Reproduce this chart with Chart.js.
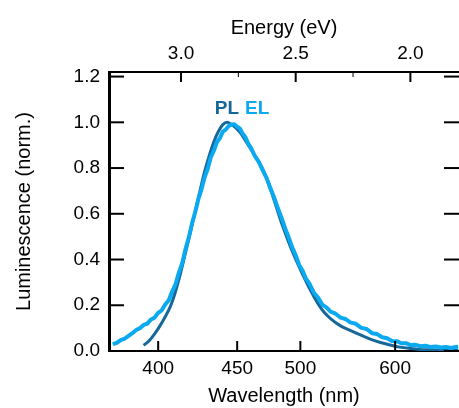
<!DOCTYPE html>
<html>
<head>
<meta charset="utf-8">
<script src="https://cdn.jsdelivr.net/npm/chart.js@4/dist/chart.umd.min.js"></script>
<style>
  html, body { margin: 0; padding: 0; background: #fff; }
  #wrap { width: 459px; height: 408px; }
</style>
</head>
<body>
<div id="wrap"><canvas id="c" width="459" height="408"></canvas></div>
<script>
// ---- data ----
const seriesNames = ['PL', 'EL'];

const plWavelength = [392, 395, 398, 401, 404, 407, 410, 413, 416, 419, 422, 425, 428, 431, 434, 437, 440, 443, 446, 450, 453, 457.5, 463, 469, 475, 480, 485, 490, 496, 502, 508, 516, 522, 528, 538, 548, 559, 570, 582, 594, 606, 620, 633, 648, 663, 679, 692];
const plValue      = [0.025, 0.045, 0.075, 0.11, 0.15, 0.195, 0.26, 0.34, 0.43, 0.52, 0.61, 0.70, 0.785, 0.855, 0.915, 0.96, 0.99, 1.0, 0.99, 0.97, 0.948, 0.905, 0.855, 0.795, 0.708, 0.625, 0.545, 0.475, 0.40, 0.335, 0.275, 0.207, 0.168, 0.142, 0.11, 0.09, 0.07, 0.052, 0.037, 0.026, 0.017, 0.011, 0.007, 0.005, 0.003, 0.002, 0.002];

const elWavelength = [376, 378, 380, 382, 384, 386, 388, 390, 392, 394, 396, 398, 400, 402, 404, 406, 408, 410, 412, 414, 416, 418, 420, 422, 424, 426, 428, 430, 432, 434, 436, 438, 440, 442, 444, 446, 448, 450, 452, 454, 456, 458, 460, 463, 466, 469, 472, 475, 478, 481, 484, 487, 490, 493, 496, 499, 502, 505, 508, 512, 516, 520, 524, 528, 533, 538, 543, 548, 554, 560, 566, 572, 578, 584, 590, 596, 602, 608, 614, 620, 627, 634, 641, 648, 656, 664, 672, 680, 686, 692];
const elValue      = [0.030, 0.036, 0.048, 0.054, 0.066, 0.078, 0.092, 0.100, 0.114, 0.120, 0.138, 0.146, 0.167, 0.178, 0.203, 0.222, 0.260, 0.292, 0.343, 0.384, 0.446, 0.496, 0.558, 0.608, 0.665, 0.708, 0.761, 0.797, 0.848, 0.876, 0.913, 0.931, 0.959, 0.968, 0.984, 0.990, 0.992, 0.981, 0.972, 0.950, 0.935, 0.907, 0.888, 0.852, 0.826, 0.790, 0.756, 0.712, 0.671, 0.625, 0.582, 0.536, 0.496, 0.452, 0.418, 0.376, 0.351, 0.316, 0.296, 0.256, 0.234, 0.203, 0.191, 0.172, 0.163, 0.146, 0.140, 0.125, 0.119, 0.101, 0.096, 0.078, 0.074, 0.060, 0.056, 0.044, 0.043, 0.034, 0.034, 0.026, 0.027, 0.021, 0.023, 0.018, 0.020, 0.015, 0.018, 0.013, 0.017, 0.019];

const yTicks       = [0.0, 0.2, 0.4, 0.6, 0.8, 1.0, 1.2];
const bottomTickNm = [400, 450, 500, 600];
const topTickEv    = [3.0, 2.5, 2.0];
const topMinorEv   = [2.75, 2.25];

// ---- helpers ----
const HC = 1239.84; // eV*nm
const toEv = nm => HC / nm;
const E_MIN = 1.788, E_MAX = 3.314;
const FONT = "'Liberation Sans', Arial, Helvetica, sans-serif";
const PL_COLOR = '#17689a';
const EL_COLOR = '#0ba9f0';

const plData = plWavelength.map((w, i) => ({ x: toEv(w), y: plValue[i] }));
const elData = elWavelength.map((w, i) => ({ x: toEv(w), y: elValue[i] }));

const axisTicks = {
  id: 'axisTicks',
  afterDraw(chart) {
    const { ctx, chartArea: a, scales } = chart;
    ctx.save();
    ctx.strokeStyle = '#000';
    ctx.lineCap = 'butt';
    const seg = (x1, y1, x2, y2, w) => { ctx.lineWidth = w; ctx.beginPath(); ctx.moveTo(x1, y1); ctx.lineTo(x2, y2); ctx.stroke(); };
    bottomTickNm.forEach(nm => { const p = scales.x.getPixelForValue(toEv(nm)); seg(p, a.bottom, p, a.bottom - 10, 2); });
    topTickEv.forEach(e => { const p = scales.x2.getPixelForValue(e); seg(p, a.top, p, a.top + 10, 2); });
    topMinorEv.forEach(e => { const p = scales.x2.getPixelForValue(e); seg(p, a.top, p, a.top + 5, 1); });
    yTicks.forEach(t => {
      const p = scales.y.getPixelForValue(t);
      seg(a.left, p, a.left + 15, p, 2);
      seg(a.right, p, a.right - 15, p, 2);
    });
    ctx.restore();
  }
};

const seriesLabels = {
  id: 'seriesLabels',
  afterDatasetsDraw(chart, args, opts) {
    const { ctx, scales } = chart;
    const px = scales.x.getPixelForValue(toEv(opts.anchorNm));
    const py = scales.y.getPixelForValue(opts.anchorY);
    ctx.save();
    ctx.font = "bold 19px " + FONT;
    ctx.textBaseline = 'middle';
    ctx.fillStyle = PL_COLOR; ctx.textAlign = 'right';
    ctx.fillText(seriesNames[0], px - 3, py);
    ctx.fillStyle = EL_COLOR; ctx.textAlign = 'left';
    ctx.fillText(seriesNames[1], px + 3, py);
    ctx.restore();
  }
};

const tickFont = { family: FONT, size: 19 };
const titleFont = { family: FONT, size: 20 };

new Chart(document.getElementById('c'), {
  type: 'line',
  data: {
    datasets: [
      { label: seriesNames[1], data: elData, borderColor: EL_COLOR, borderWidth: 4, pointRadius: 0, tension: 0, xAxisID: 'x', yAxisID: 'y', borderJoinStyle: 'round' },
      { label: seriesNames[0], data: plData, borderColor: PL_COLOR, borderWidth: 3, pointRadius: 0, tension: 0.4, cubicInterpolationMode: 'monotone', xAxisID: 'x', yAxisID: 'y' }
    ]
  },
  options: {
    responsive: false,
    devicePixelRatio: 1,
    animation: false,
    layout: { padding: 0 },
    plugins: {
      legend: { display: false },
      tooltip: { enabled: false },
      seriesLabels: { anchorNm: 453.5, anchorY: 1.06 }
    },
    scales: {
      x: {
        type: 'linear', position: 'bottom', min: E_MIN, max: E_MAX, reverse: true,
        afterBuildTicks: s => { s.ticks = bottomTickNm.map(nm => ({ value: toEv(nm) })); },
        afterFit: s => { s.height = 57; },
        ticks: { callback: v => String(Math.round(HC / v)), font: tickFont, color: '#000', padding: 6, maxRotation: 0, autoSkip: false },
        grid: { display: false, drawTicks: false },
        border: { display: true, width: 2, color: '#000' },
        title: { display: true, text: 'Wavelength (nm)', font: titleFont, color: '#000', padding: { top: 0, bottom: 0 } }
      },
      x2: {
        type: 'linear', position: 'top', min: E_MIN, max: E_MAX, reverse: true,
        afterBuildTicks: s => { s.ticks = topTickEv.map(v => ({ value: v })); },
        afterFit: s => { s.height = 72; },
        ticks: { callback: v => v.toFixed(1), font: tickFont, color: '#000', padding: 7, maxRotation: 0, autoSkip: false },
        grid: { display: false, drawTicks: false },
        border: { display: true, width: 2, color: '#000' },
        title: { display: true, text: 'Energy (eV)', font: titleFont, color: '#000', padding: { top: 16, bottom: 0 } }
      },
      y: {
        type: 'linear', position: 'left', min: 0, max: 1.22,
        afterBuildTicks: s => { s.ticks = yTicks.map(v => ({ value: v })); },
        afterFit: s => { s.width = 109; },
        ticks: { callback: v => v.toFixed(1), font: tickFont, color: '#000', padding: 9, autoSkip: false },
        grid: { display: false, drawTicks: false },
        border: { display: true, width: 3, color: '#000' },
        title: { display: true, text: 'Luminescence (norm.)', font: titleFont, color: '#000', padding: { top: 12, bottom: 0 } }
      }
    }
  },
  plugins: [axisTicks, seriesLabels]
});
</script>
</body>
</html>
